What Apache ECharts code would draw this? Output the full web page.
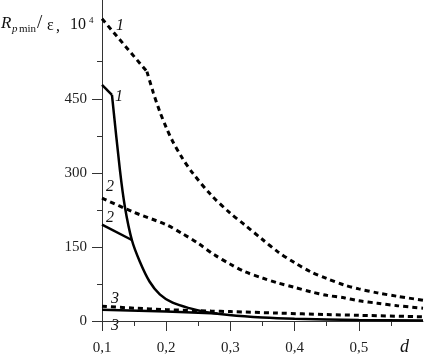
<!DOCTYPE html>
<html>
<head>
<meta charset="utf-8">
<script src="https://cdn.jsdelivr.net/npm/echarts@6/dist/echarts.min.js"></script>
<style>
  html, body { margin: 0; padding: 0; background: #fff; }
  #chart { width: 424px; height: 355px; }
</style>
</head>
<body>
<div id="chart"></div>
<script>
// tick values
const xMajorTicks = [0.1, 0.2, 0.3, 0.4, 0.5];
const xMinorTicks = [0.15, 0.25, 0.35, 0.45, 0.55];
const yMajorTicks = [0, 150, 300, 450];
const yMinorTicks = [75, 225, 375, 525];

// curve 1: straight start, kink, then smooth tail
const dashed1Head = [[0.1, 612], [0.17, 505]];
const dashed1Tail = [[0.17, 505], [0.18, 462], [0.19, 424], [0.2, 392], [0.21, 364], [0.225, 330],
  [0.241, 300], [0.27, 255], [0.3, 218], [0.322, 195], [0.35, 165], [0.374, 140],
  [0.4, 118], [0.426, 99], [0.45, 86], [0.477, 73], [0.5, 65], [0.529, 57], [0.56, 50], [0.6, 42]];
const solid1Head = [[0.1, 478], [0.1155, 458]];
const solid1Tail = [[0.1155, 458], [0.1279, 306], [0.1357, 231], [0.1465, 164], [0.159, 120],
  [0.174, 80], [0.19, 54], [0.21, 37], [0.236, 26], [0.263, 18], [0.298, 12],
  [0.35, 7], [0.4, 4.5], [0.5, 2], [0.6, 1]];

// curve 2
const dashed2 = [[0.1, 249], [0.148, 221], [0.2, 195], [0.225, 177], [0.25, 157], [0.275, 134],
  [0.3, 115], [0.322, 100], [0.35, 87], [0.374, 77], [0.4, 68], [0.426, 59], [0.45, 52],
  [0.477, 47], [0.5, 41], [0.529, 36], [0.56, 31], [0.6, 26]];
const solid2 = [[0.1, 195], [0.1465, 164]];

// curve 3
const dashed3 = [[0.1, 30], [0.15, 26], [0.2, 23], [0.27, 20], [0.3, 19], [0.374, 16],
  [0.45, 13], [0.5, 11.5], [0.6, 8.5]];
const solid3 = [[0.1, 23], [0.2, 19], [0.28, 15]];

const serif = '"Liberation Serif", "DejaVu Serif", serif';

const chart = echarts.init(document.getElementById('chart'));

function lineSeries(data, dashed, smooth) {
  return {
    type: 'line',
    data: data,
    showSymbol: false,
    smooth: smooth ? 0.3 : false,
    lineStyle: dashed
      ? { color: '#000', width: 3, type: [5, 4] }
      : { color: '#000', width: 2.5 },
    silent: true
  };
}

function txt(x, y, text, size, italic) {
  return {
    type: 'text',
    x: x,
    y: y,
    style: {
      text: text,
      font: (italic ? 'italic ' : '') + size + 'px ' + serif,
      fill: '#111',
      verticalAlign: 'middle'
    }
  };
}

const option = {
  animation: false,
  grid: { left: 102, right: 1, top: 0, bottom: 34, outerBoundsMode: 'none' },
  xAxis: [
    {
      type: 'value',
      min: 0.1,
      max: 0.6,
      interval: 0.1,
      splitLine: { show: false },
      axisLine: { lineStyle: { color: '#333', width: 1 } },
      axisTick: { customValues: xMajorTicks, length: 10, lineStyle: { color: '#333' } },
      axisLabel: {
        customValues: xMajorTicks,
        margin: 20,
        fontFamily: serif,
        fontSize: 15,
        color: '#222',
        formatter: v => v.toFixed(1).replace('.', ',')
      }
    },
    {
      type: 'value',
      min: 0.1,
      max: 0.6,
      position: 'bottom',
      splitLine: { show: false },
      axisLine: { show: false },
      axisTick: { customValues: xMinorTicks, length: 5, lineStyle: { color: '#333' } },
      axisLabel: { show: false }
    }
  ],
  yAxis: [
    {
      type: 'value',
      min: 0,
      max: 650,
      interval: 150,
      splitLine: { show: false },
      axisLine: { show: true, lineStyle: { color: '#333', width: 1 } },
      axisTick: { show: true, customValues: yMajorTicks, length: 10, lineStyle: { color: '#333' } },
      axisLabel: {
        customValues: yMajorTicks,
        margin: 15,
        fontFamily: serif,
        fontSize: 15,
        color: '#222'
      }
    },
    {
      type: 'value',
      min: 0,
      max: 650,
      position: 'left',
      splitLine: { show: false },
      axisLine: { show: false },
      axisTick: { show: true, customValues: yMinorTicks, length: 5, lineStyle: { color: '#333' } },
      axisLabel: { show: false }
    }
  ],
  series: [
    lineSeries(dashed1Head, true, false),
    lineSeries(dashed1Tail, true, true),
    lineSeries(dashed2, true, true),
    lineSeries(dashed3, true, true),
    lineSeries(solid1Head, false, false),
    lineSeries(solid1Tail, false, true),
    lineSeries(solid2, false, false),
    lineSeries(solid3, false, false)
  ],
  graphic: [
    // axis title
    txt(1, 24, 'R', 17, true),
    txt(12, 29, 'p', 11, true),
    txt(19, 29, 'min', 11, false),
    txt(37, 23, '/', 19, false),
    txt(47, 26, 'ε', 16, false),
    txt(56, 27, ',', 16, false),
    txt(70, 25, '10', 16, false),
    txt(89, 21, '4', 9, false),
    txt(400, 347, 'd', 18, true),
    // curve numbers
    txt(116, 26, '1', 16, true),
    txt(115, 97, '1', 16, true),
    txt(106, 187, '2', 16, true),
    txt(106, 218, '2', 16, true),
    txt(111, 299, '3', 16, true),
    txt(111, 326, '3', 16, true)
  ]
};

chart.setOption(option);
</script>
</body>
</html>
